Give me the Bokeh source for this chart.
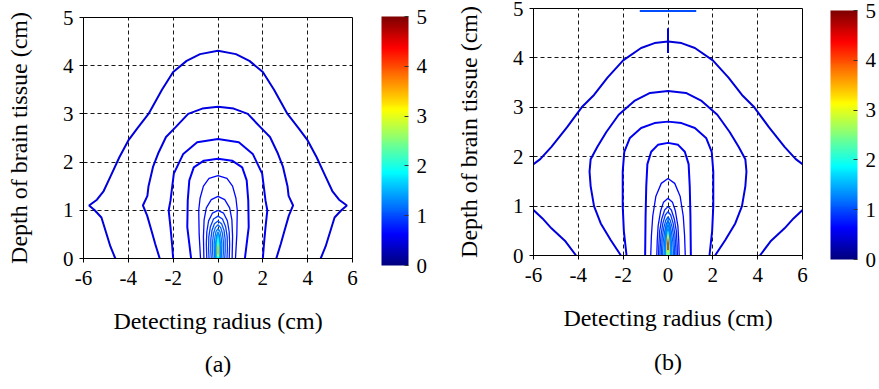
import numpy as np
from bokeh.plotting import figure
from bokeh.models import (ColumnDataSource, Range1d, FixedTicker, LinearColorMapper,
                          ColorBar, Title)
from bokeh.layouts import row, column
from bokeh.embed import file_html
from bokeh.resources import INLINE

# ---------------- data (half contours: radius >= 0, depth) ----------------
# Panel (a)
A_C1_R = [0, 0.8, 1.4, 2.0, 2.5, 3.1, 3.6, 4.0, 4.4, 4.8, 5.1, 5.4, 5.75, 5.5, 5.2, 5.0, 4.8, 4.58]
A_C1_D = [4.31, 4.24, 4.1, 3.87, 3.5, 3.0, 2.7, 2.45, 2.1, 1.7, 1.4, 1.22, 1.1, 1.0, 0.85, 0.55, 0.25, 0.0]
A_C2_R = [0, 0.7, 1.33, 1.9, 2.32, 2.65, 2.9, 3.1, 3.15, 3.35, 3.16, 2.95, 2.8, 2.6]
A_C2_D = [3.15, 3.11, 3.0, 2.72, 2.52, 2.2, 1.9, 1.5, 1.3, 1.1, 0.89, 0.55, 0.3, 0.0]
A_C3_R = [0, 0.93, 1.55, 1.97, 2.12, 2.2, 2.12, 2.05, 2.0]
A_C3_D = [2.48, 2.41, 2.17, 1.76, 1.2, 1.0, 0.65, 0.3, 0.0]
A_C4_R = [0, 0.63, 1.08, 1.28, 1.35, 1.37, 1.2]
A_C4_D = [2.07, 2.03, 1.89, 1.62, 1.2, 0.65, 0.0]
A_C5_R = [0, 0.4, 0.65, 0.8, 0.86, 0.84, 0.78]
A_C5_D = [1.72, 1.66, 1.5, 1.25, 1.0, 0.5, 0.0]
A_C6_R = [0, 0.3, 0.52, 0.62, 0.65, 0.63]
A_C6_D = [1.29, 1.22, 1.05, 0.8, 0.45, 0.0]
A_C7_R = [0, 0.25, 0.42, 0.5, 0.52, 0.5]
A_C7_D = [1.0, 0.94, 0.78, 0.55, 0.3, 0.0]
A_C8_R = [0, 0.2, 0.34, 0.41, 0.42, 0.4]
A_C8_D = [0.88, 0.82, 0.66, 0.45, 0.2, 0.0]
A_C9_R = [0, 0.16, 0.27, 0.32, 0.32, 0.3]
A_C9_D = [0.78, 0.72, 0.58, 0.4, 0.15, 0.0]
A_C10_R = [0, 0.12, 0.2, 0.24, 0.24, 0.22]
A_C10_D = [0.7, 0.64, 0.52, 0.35, 0.12, 0.0]
A_C11_R = [0, 0.09, 0.14, 0.17, 0.16, 0.14]
A_C11_D = [0.62, 0.56, 0.44, 0.3, 0.1, 0.0]
A_C12_R = [0, 0.06, 0.1, 0.11, 0.1]
A_C12_D = [0.55, 0.48, 0.35, 0.2, 0.0]
A_LEVELS = [0.45, 0.5, 0.55, 0.6, 0.65, 0.7, 0.8, 0.9, 1.0, 1.1, 1.2, 1.3]
# hot core of panel (a): half outlines and their values
A_CORE_R = [[0, 0.12, 0.12], [0, 0.07, 0.07], [0, 0.04, 0.04, 0], [0, 0.025, 0.025, 0]]
A_CORE_D = [[0.6, 0.3, 0.0], [0.5, 0.3, 0.0], [0.36, 0.2, 0.05, 0.03], [0.3, 0.2, 0.1, 0.08]]
A_CORE_V = [1.5, 2.0, 2.8, 3.6]

# Panel (b)
B_C1_R = [0, 0.6, 1.2, 2.0, 2.7, 3.3, 3.85, 4.5, 5.2, 5.7, 6.0]
B_C1_D = [4.33, 4.3, 4.2, 3.95, 3.6, 3.25, 3.0, 2.6, 2.2, 1.95, 1.85]
B_C2_R = [0, 0.8, 1.5, 2.2, 2.75, 3.15, 3.45, 3.5, 3.45, 3.3, 3.0, 2.55, 2.1]
B_C2_D = [3.33, 3.29, 3.13, 2.85, 2.5, 2.2, 1.95, 1.7, 1.4, 1.0, 0.65, 0.31, 0.0]
B_C3_R = [0, 0.6, 1.2, 1.7, 1.95, 2.02, 2.02, 1.97, 1.85]
B_C3_D = [2.71, 2.68, 2.58, 2.38, 2.1, 1.7, 1.0, 0.5, 0.0]
B_C4_R = [0, 0.45, 0.75, 0.92, 0.97, 1.0, 1.02]
B_C4_D = [2.28, 2.24, 2.1, 1.85, 1.4, 0.8, 0.0]
B_C5_R = [0, 0.3, 0.54, 0.68, 0.74, 0.77]
B_C5_D = [1.56, 1.46, 1.2, 0.8, 0.4, 0.0]
B_C6_R = [0, 0.2, 0.33, 0.44, 0.48, 0.5]
B_C6_D = [1.16, 1.08, 0.9, 0.6, 0.3, 0.0]
B_C7_R = [0, 0.15, 0.28, 0.37, 0.41, 0.42]
B_C7_D = [0.99, 0.92, 0.74, 0.5, 0.2, 0.0]
B_C8_R = [0, 0.12, 0.23, 0.31, 0.35, 0.36]
B_C8_D = [0.89, 0.82, 0.65, 0.42, 0.15, 0.0]
B_C9_R = [0, 0.1, 0.19, 0.26, 0.29, 0.3]
B_C9_D = [0.78, 0.71, 0.56, 0.36, 0.12, 0.0]
B_C10_R = [0, 0.08, 0.15, 0.21, 0.24, 0.24]
B_C10_D = [0.7, 0.63, 0.48, 0.3, 0.1, 0.0]
B_C11_R = [0, 0.06, 0.11, 0.16, 0.18]
B_C11_D = [0.62, 0.55, 0.42, 0.25, 0.0]
B_C12_R = [0, 0.05, 0.08, 0.12, 0.13]
B_C12_D = [0.55, 0.48, 0.36, 0.18, 0.0]
B_LEVELS = [0.45, 0.5, 0.55, 0.6, 0.65, 0.7, 0.8, 0.9, 1.0, 1.1, 1.2, 1.3]
# open contour pieces of panel (b)
B_CORNER_R = [4.1, 4.6, 5.2, 5.6, 6.0]
B_CORNER_D = [0.0, 0.3, 0.55, 0.75, 0.92]
B_TOP_R = [-1.26, 1.26]
B_TOP_D = [4.95, 4.95]
B_SPIKE_R = [0, 0]
B_SPIKE_D = [4.1, 4.6]
B_CORE_R = [[0, 0.15, 0.16], [0, 0.1, 0.1], [0, 0.06, 0.06], [0, 0.045, 0.045, 0], [0, 0.035, 0.035, 0]]
B_CORE_D = [[0.8, 0.5, 0.0], [0.6, 0.4, 0.0], [0.5, 0.35, 0.0], [0.45, 0.3, 0.08, 0.05], [0.36, 0.25, 0.12, 0.1]]
B_CORE_V = [1.5, 2.0, 2.6, 3.3, 4.3]

X_TICKS = [-6, -4, -2, 0, 2, 4, 6]
X_TICK_LABELS = ["-6", "-4", "-2", "0", "2", "4", "6"]
Y_TICKS = [0, 1, 2, 3, 4, 5]
CB_TICKS = [0, 1, 2, 3, 4, 5]


# ---------------- helpers ----------------
def jet(n=256):
    out = []
    for i in range(n):
        t = i / (n - 1)
        r = np.clip(1.5 - abs(4 * t - 3), 0, 1)
        g = np.clip(1.5 - abs(4 * t - 2), 0, 1)
        b = np.clip(1.5 - abs(4 * t - 1), 0, 1)
        out.append("#%02x%02x%02x" % (int(r * 255), int(g * 255), int(b * 255)))
    return out


JET = jet()


def mirror(r, d):
    xs = [-v for v in r[::-1]] + list(r[1:] if r[0] == 0 else r)
    ys = list(d[::-1]) + list(d[1:] if r[0] == 0 else d)
    return xs, ys


SERIF = "Liberation Serif"
FW = 269


def make_panel(caption, closed, levels, pieces, core_r, core_d, core_v,
               width, min_left, min_top, frame_h, cb_gap, cb_y, cap_standoff, height=389):
    mapper = LinearColorMapper(palette=JET, low=0, high=5)
    p = figure(width=width, height=height, output_backend="svg", toolbar_location=None,
               x_range=Range1d(-6, 6), y_range=Range1d(0, 5),
               min_border_left=min_left, min_border_right=width - min_left - FW,
               min_border_top=min_top, min_border_bottom=height - min_top - frame_h)
    # hot core (filled)
    cx, cy = [], []
    for r, d in zip(core_r, core_d):
        x, y = mirror(r, d)
        cx.append(x)
        cy.append(y)
    p.patches("xs", "ys", source=ColumnDataSource(dict(xs=cx, ys=cy, v=core_v)),
              fill_color={"field": "v", "transform": mapper}, line_color=None)
    # contour lines
    xs, ys, lv, lw = [], [], [], []
    for (r, d), L in zip(closed, levels):
        x, y = mirror(r, d)
        xs.append(x)
        ys.append(y)
        lv.append(L)
        lw.append(2.0 if L < 0.62 else 1.3)
    for (x, y, L) in pieces:
        xs.append(x)
        ys.append(y)
        lv.append(L)
        lw.append(2.0)
    p.multi_line("xs", "ys", source=ColumnDataSource(dict(xs=xs, ys=ys, lv=lv, lw=lw)),
                 line_color={"field": "lv", "transform": mapper}, line_width="lw")

    # axes and grid
    p.xaxis.ticker = FixedTicker(ticks=X_TICKS)
    p.xaxis.major_label_overrides = {t: s for t, s in zip(X_TICKS, X_TICK_LABELS)}
    p.yaxis.ticker = FixedTicker(ticks=Y_TICKS)
    for ax in (p.xaxis[0], p.yaxis[0]):
        ax.major_label_text_font = SERIF
        ax.major_label_text_font_size = "21px"
        ax.major_label_text_color = "black"
        ax.axis_label_text_font = SERIF
        ax.axis_label_text_font_size = "24px"
        ax.axis_label_text_font_style = "normal"
        ax.axis_label_text_color = "black"
        ax.axis_line_color = "black"
        ax.major_tick_line_color = "black"
        ax.major_tick_out = 4
        ax.major_tick_in = 0
        ax.minor_tick_line_color = None
    p.xaxis.axis_label = "Detecting radius (cm)"
    p.yaxis.axis_label = "Depth of brain tissue (cm)"
    p.xaxis.major_label_standoff = 8
    p.xaxis.axis_label_standoff = 20
    p.yaxis.major_label_standoff = 6
    p.yaxis.axis_label_standoff = 28
    p.grid.grid_line_color = "black"
    p.grid.grid_line_dash = "4 3"
    p.grid.grid_line_width = 1
    p.grid.grid_line_alpha = 0.9
    p.outline_line_color = "black"
    p.outline_line_alpha = 1

    cb = ColorBar(color_mapper=mapper, ticker=FixedTicker(ticks=CB_TICKS), width=27,
                  height=249, padding=0, margin=0, label_standoff=8,
                  location=(cb_gap, cb_y),
                  major_label_text_font=SERIF, major_label_text_font_size="21px",
                  major_label_text_color="black",
                  major_tick_line_color="#333333", major_tick_in=4, major_tick_out=0,
                  bar_line_color=None, border_line_color=None,
                  background_fill_alpha=0)
    p.add_layout(cb, "right")
    p.add_layout(Title(text=caption, align="center", text_font=SERIF,
                       text_font_size="24px", text_font_style="normal",
                       text_color="black", standoff=cap_standoff), "below")
    return p


a_closed = [(A_C1_R, A_C1_D), (A_C2_R, A_C2_D), (A_C3_R, A_C3_D), (A_C4_R, A_C4_D),
            (A_C5_R, A_C5_D), (A_C6_R, A_C6_D), (A_C7_R, A_C7_D), (A_C8_R, A_C8_D),
            (A_C9_R, A_C9_D), (A_C10_R, A_C10_D), (A_C11_R, A_C11_D), (A_C12_R, A_C12_D)]
b_closed = [(B_C1_R, B_C1_D), (B_C2_R, B_C2_D), (B_C3_R, B_C3_D), (B_C4_R, B_C4_D),
            (B_C5_R, B_C5_D), (B_C6_R, B_C6_D), (B_C7_R, B_C7_D), (B_C8_R, B_C8_D),
            (B_C9_R, B_C9_D), (B_C10_R, B_C10_D), (B_C11_R, B_C11_D), (B_C12_R, B_C12_D)]
b_pieces = [
    (B_CORNER_R, B_CORNER_D, 0.45),
    ([-v for v in B_CORNER_R], B_CORNER_D, 0.45),
    (B_TOP_R, B_TOP_D, 1.0),
    (B_SPIKE_R, B_SPIKE_D, 0.45),
]

pa = make_panel("(a)", a_closed, A_LEVELS, [], A_CORE_R, A_CORE_D, A_CORE_V,
                width=440, min_left=83, min_top=17, frame_h=241, cb_gap=29, cb_y=-7,
                cap_standoff=24)
pb = make_panel("(b)", b_closed, B_LEVELS, b_pieces, B_CORE_R, B_CORE_D, B_CORE_V,
                width=439, min_left=93, min_top=8, frame_h=247, cb_gap=28, cb_y=-4,
                cap_standoff=27)

layout = row(column(pa), column(pb))
open("out.html", "w").write(file_html(layout, INLINE))
